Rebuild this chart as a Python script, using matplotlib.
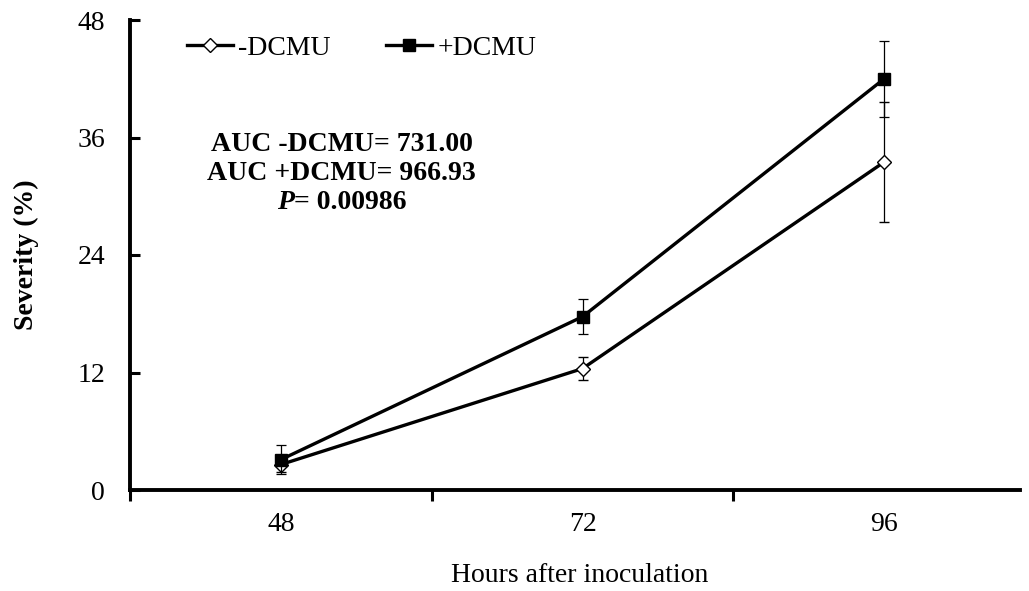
import numpy as np
import matplotlib.pyplot as plt
from matplotlib.lines import Line2D

plt.rcParams['font.family'] = ['Liberation Serif', 'DejaVu Serif']

hours = ['48', '72', '96']
minus_dcmu = [2.6, 12.4, 33.5]
minus_err = [0.75, 1.2, 6.1]
plus_dcmu = [3.1, 17.7, 42.0]
plus_err = [1.5, 1.8, 3.9]

x = np.arange(len(hours))
FS = 20

fig = plt.figure(figsize=(10.29, 5.91), dpi=100)
ax = fig.add_axes([130/1029, 101/591, 890/1029, 470/591])

minus_style = dict(color='black', lw=2.4, marker='D', ms=7.5,
                   mfc='white', mec='black', mew=1.0)
plus_style = dict(color='black', lw=2.4, marker='s', ms=9,
                  mfc='black', mec='black')
err_style = dict(ecolor='black', elinewidth=0.9, capsize=3.6, capthick=0.9)

ax.errorbar(x, minus_dcmu, yerr=minus_err, zorder=3, **minus_style, **err_style)
ax.errorbar(x, plus_dcmu, yerr=plus_err, zorder=4, **plus_style, **err_style)

ax.set_xlim(-0.5, 2.45)
ax.set_ylim(0, 48)
ax.set_yticks([0, 12, 24, 36, 48])
ax.set_xticks(x)
ax.set_xticklabels(hours)
ax.set_xticks([-0.5, 0.5, 1.5], minor=True)
ax.tick_params(axis='x', which='major', length=0, pad=16, labelsize=FS)
ax.tick_params(axis='x', which='minor', length=8, width=2.2, direction='out')
ax.tick_params(axis='y', length=7, width=2.2, direction='in', pad=18, labelsize=FS)

for side in ['top', 'right']:
    ax.spines[side].set_visible(False)
for side in ['left', 'bottom']:
    ax.spines[side].set_linewidth(2.8)

ax.set_xlabel('Hours after inoculation', fontsize=FS)
ax.xaxis.set_label_coords(0.505, -0.155)
ax.set_ylabel('Severity (%)', fontsize=FS, fontweight='bold')
ax.yaxis.set_label_coords(-0.102, 0.5)

# legend without the error bars, just line + marker
handles = [Line2D([], [], **minus_style), Line2D([], [], **plus_style)]
fig.legend(handles, ['-DCMU', '+DCMU'], loc='center left',
           bbox_to_anchor=(187/1029, 1 - 48/591), ncol=2, frameon=False,
           fontsize=FS, handlelength=1.65, handletextpad=0.2,
           columnspacing=2.0, borderpad=0, borderaxespad=0)

tx = 0.238
ax.text(tx, 0.736, 'AUC -DCMU= 731.00', transform=ax.transAxes,
        ha='center', va='center', fontsize=FS, fontweight='bold')
ax.text(tx, 0.674, 'AUC +DCMU= 966.93', transform=ax.transAxes,
        ha='center', va='center', fontsize=FS, fontweight='bold')
p_txt = ax.text(0.165, 0.611, 'P', transform=ax.transAxes, ha='left',
                va='center', fontsize=FS, fontweight='bold', fontstyle='italic')
ax.annotate('= 0.00986', xy=(1, 0.5), xycoords=p_txt, ha='left', va='center',
            fontsize=FS, fontweight='bold')

plt.savefig('out.png', dpi=100)
